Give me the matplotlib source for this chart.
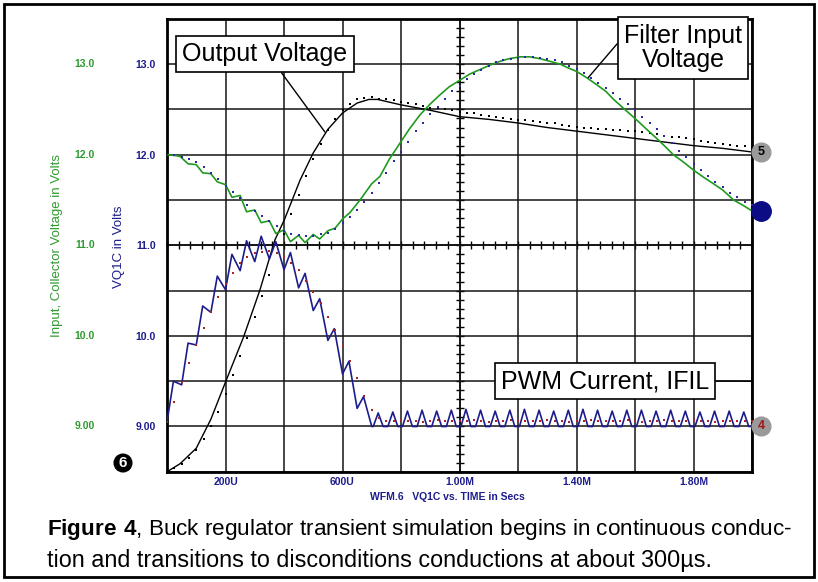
import numpy as np
import matplotlib
import matplotlib.pyplot as plt
from matplotlib.patches import Rectangle
from matplotlib.ticker import MultipleLocator
from matplotlib import transforms

plt.rcParams['font.family'] = ['Liberation Sans', 'DejaVu Sans']
plt.rcParams['mathtext.fontset'] = 'custom'
plt.rcParams['mathtext.rm'] = 'Liberation Sans'
plt.rcParams['mathtext.bf'] = 'Liberation Sans:bold'

# ---- data (time in microseconds, volts) ----
# dotted traces are sampled every 25 us
dot_time = np.arange(0, 2001, 25)

out_dots = [8.50, 8.54, 8.59, 8.65, 8.74, 8.86, 9.00, 9.16, 9.36, 9.57,
            9.78, 9.98, 10.21, 10.44, 10.67, 10.91, 11.12, 11.34, 11.55, 11.76,
            11.95, 12.12, 12.27, 12.39, 12.49, 12.56, 12.61, 12.63, 12.64, 12.62,
            12.61, 12.60, 12.58, 12.57, 12.56, 12.54, 12.52, 12.51, 12.50, 12.49,
            12.47, 12.46, 12.46, 12.44, 12.43, 12.42, 12.41, 12.39, 12.38, 12.38,
            12.37, 12.36, 12.35, 12.35, 12.33, 12.32, 12.31, 12.30, 12.29, 12.28,
            12.28, 12.27, 12.27, 12.26, 12.26, 12.25, 12.24, 12.23, 12.21, 12.20,
            12.19, 12.18, 12.17, 12.15, 12.14, 12.13, 12.12, 12.11, 12.10, 12.10,
            12.09]

filt_dots = [12.00, 12.00, 11.98, 11.95, 11.92, 11.86, 11.80, 11.73, 11.66, 11.59,
             11.52, 11.45, 11.38, 11.32, 11.27, 11.21, 11.16, 11.12, 11.11, 11.10,
             11.10, 11.12, 11.14, 11.18, 11.25, 11.31, 11.39, 11.48, 11.58, 11.69,
             11.80, 11.93, 12.03, 12.14, 12.26, 12.35, 12.45, 12.53, 12.62, 12.70,
             12.76, 12.84, 12.89, 12.94, 12.98, 13.02, 13.04, 13.06, 13.07, 13.08,
             13.08, 13.07, 13.06, 13.04, 13.02, 12.98, 12.95, 12.90, 12.85, 12.79,
             12.74, 12.68, 12.62, 12.56, 12.49, 12.42, 12.35, 12.28, 12.21, 12.13,
             12.04, 11.97, 11.90, 11.83, 11.76, 11.70, 11.64, 11.58, 11.53, 11.48,
             11.44]

pwm_dots = [9.05, 9.27, 9.49, 9.70, 9.90, 10.09, 10.26, 10.43, 10.57, 10.69,
            10.81, 10.87, 10.91, 10.93, 10.94, 10.92, 10.87, 10.81, 10.73, 10.61,
            10.49, 10.36, 10.21, 10.07, 9.89, 9.72, 9.53, 9.34, 9.18, 9.09,
            9.06, 9.06, 9.07, 9.06, 9.06, 9.05, 9.06, 9.07, 9.06, 9.06,
            9.06, 9.06, 9.07, 9.06, 9.05, 9.06, 9.06, 9.07, 9.06, 9.06,
            9.06, 9.06, 9.07, 9.06, 9.06, 9.05, 9.06, 9.06, 9.07, 9.06,
            9.06, 9.06, 9.06, 9.07, 9.06, 9.05, 9.06, 9.06, 9.07, 9.06,
            9.06, 9.06, 9.07, 9.06, 9.06, 9.05, 9.06, 9.06, 9.06, 9.06,
            9.06]

# output voltage (solid black)
out_t = [0, 45, 100, 150, 200, 262, 318, 369, 401, 455, 500, 550, 600, 650, 690,
         720, 800, 900, 1000, 1100, 1200, 1300, 1400, 1500, 1600, 1700, 1800, 1900, 2000]
out_v = [8.50, 8.59, 8.76, 9.08, 9.49, 9.99, 10.51, 11.06, 11.28, 11.72, 12.02, 12.28,
         12.46, 12.57, 12.61, 12.61, 12.55, 12.49, 12.42, 12.39, 12.35, 12.30, 12.26,
         12.22, 12.18, 12.14, 12.10, 12.07, 12.03]

# filter input voltage (solid green)
filt_t = [0, 30, 45, 72, 100, 122, 150, 172, 200, 222, 250, 272, 300, 322, 350, 372,
          400, 422, 450, 472, 500, 522, 550, 575, 600, 625, 660, 700, 728, 760, 797,
          830, 865, 900, 933, 965, 1000, 1035, 1070, 1105, 1138, 1170, 1207, 1240,
          1275, 1310, 1344, 1370, 1400, 1435, 1470, 1500, 1527, 1565, 1600, 1640,
          1674, 1700, 1731, 1765, 1800, 1835, 1868, 1900, 1937, 1970, 2000]
filt_v = [12.00, 11.99, 11.98, 11.90, 11.89, 11.80, 11.79, 11.70, 11.67, 11.53, 11.55,
          11.37, 11.39, 11.25, 11.27, 11.13, 11.17, 11.04, 11.11, 11.03, 11.12, 11.07,
          11.16, 11.19, 11.29, 11.36, 11.50, 11.68, 11.76, 11.95, 12.13, 12.29, 12.44,
          12.56, 12.66, 12.75, 12.82, 12.89, 12.94, 12.99, 13.03, 13.06, 13.08, 13.08,
          13.06, 13.03, 13.00, 12.96, 12.92, 12.85, 12.77, 12.70, 12.61, 12.50, 12.40,
          12.28, 12.18, 12.10, 12.00, 11.92, 11.83, 11.75, 11.68, 11.61, 11.50, 11.44,
          11.38]

# PWM current (VQ1C) sawtooth: one peak per 50 us switching cycle
period = 50
pwm_trough = [9.05, 9.46, 9.90, 10.26, 10.51, 10.72, 10.82, 10.85, 10.73, 10.53,
              10.28, 9.95, 9.58, 9.20, 9.00]
pwm_peak = [9.50, 9.92, 10.33, 10.66, 10.90, 11.05, 11.10, 11.04, 10.92, 10.69,
            10.41, 10.08, 9.72, 9.33,
            9.15, 9.16, 9.17, 9.18, 9.17, 9.18, 9.19, 9.18, 9.17, 9.18, 9.19, 9.18,
            9.17, 9.18, 9.19, 9.18, 9.17, 9.18, 9.18, 9.17, 9.18, 9.17, 9.16, 9.17,
            9.17, 9.16]
pwm_base = 9.00

x_tick_labels = {200: '200U', 600: '600U', 1000: '1.00M', 1400: '1.40M', 1800: '1.80M'}
y_tick_labels = {13.0: '13.0', 12.0: '12.0', 11.0: '11.0', 10.0: '10.0', 9.0: '9.00'}

GREEN = '#1f9a1f'
GREEN_TXT = '#2f9a2f'
NAVY = '#1c1c8c'
DOTBLUE = '#2828a8'
RED = '#b02020'

# build the sawtooth vertices
n_ccm = len(pwm_trough) - 1
pwm_t, pwm_v = [], []
for k in range(n_ccm):
    pwm_t += [k * period, k * period + 22]
    pwm_v += [pwm_trough[k], pwm_peak[k]]
pwm_t.append(n_ccm * period)
pwm_v.append(pwm_trough[-1])
for k in range(n_ccm, len(pwm_peak)):
    pwm_t += [k * period + 5, k * period + 22, k * period + 39]
    pwm_v += [pwm_base, pwm_peak[k], pwm_base]
pwm_t.append(2000)
pwm_v.append(pwm_base)

# ---- figure ----
W, H = 818, 582
fig = plt.figure(figsize=(W / 100, H / 100), dpi=100)


def fx(x):
    return x / W


def fy(y):
    return 1 - y / H


pos = [fx(167), fy(471.8), fx(752) - fx(167), fy(18.8) - fy(471.8)]

# graticule centre lines with small ticks (drawn underneath)
axc = fig.add_axes(pos)
axc.set_xlim(0, 2000)
axc.set_ylim(8.5, 13.5)
axc.spines['top'].set_visible(False)
axc.spines['right'].set_visible(False)
axc.spines['left'].set_position(('data', 1000))
axc.spines['bottom'].set_position(('data', 11.0))
axc.spines['left'].set_linewidth(1.2)
axc.spines['bottom'].set_linewidth(1.2)
axc.xaxis.set_major_locator(MultipleLocator(40))
axc.yaxis.set_major_locator(MultipleLocator(0.1))
axc.tick_params(direction='inout', length=6, width=1, labelbottom=False, labelleft=False)

ax = fig.add_axes(pos)
ax.patch.set_visible(False)
ax.set_xlim(0, 2000)
ax.set_ylim(8.5, 13.5)
ax.set_xticks(np.arange(0, 2001, 200))
ax.set_xticklabels([x_tick_labels.get(int(t), '') for t in np.arange(0, 2001, 200)])
yt = np.arange(8.5, 13.51, 0.5)
ax.set_yticks(yt)
ax.set_yticklabels([y_tick_labels.get(round(v, 1), '') for v in yt])
ax.tick_params(length=0, labelsize=7.5, labelcolor=NAVY, pad=4)
ax.tick_params(axis='y', pad=8)
for lab in ax.get_xticklabels() + ax.get_yticklabels():
    lab.set_fontweight('bold')
ax.grid(True, color='#151515', lw=1.1)
ax.set_axisbelow(True)
for s in ax.spines.values():
    s.set_linewidth(2)

# green tick labels column
tr = transforms.blended_transform_factory(fig.transFigure, ax.transData)
for v, lab in y_tick_labels.items():
    ax.text(fx(95), v, lab, transform=tr, ha='right', va='center', fontsize=7.5,
            fontweight='bold', color=GREEN_TXT)

# traces
ax.plot(out_t, out_v, color='black', lw=1.0, zorder=3)
ax.plot(dot_time, out_dots, ls='none', marker='s', ms=1.5, mew=0, color='black', zorder=3)
ax.plot(filt_t, filt_v, color=GREEN, lw=1.2, zorder=3)
ax.plot(dot_time, filt_dots, ls='none', marker='s', ms=1.6, mew=0, color=DOTBLUE, zorder=3)
ax.plot(pwm_t, pwm_v, color=NAVY, lw=1.2, zorder=3)
ax.plot(dot_time, pwm_dots, ls='none', marker='s', ms=1.6, mew=0, color=RED, zorder=4)

# end-of-trace markers on the right edge
off = transforms.offset_copy(ax.transData, fig=fig, x=9, y=0, units='dots')
ax.plot([2000], [out_v[-1]], marker='o', ms=13.5, color='#9a9a9a', mec='#9a9a9a',
        transform=off, clip_on=False, zorder=6)
ax.text(2000, out_v[-1], '5', transform=off, ha='center', va='center', fontsize=9,
        fontweight='bold', color='black', zorder=7, clip_on=False)
ax.plot([2000], [filt_v[-1]], marker='o', ms=14, color='#0c0c84', transform=off,
        clip_on=False, zorder=6)
ax.plot([2000], [pwm_base], marker='o', ms=13.5, color='#9a9a9a', mec='#9a9a9a',
        transform=off, clip_on=False, zorder=6)
ax.text(2000, pwm_base, '4', transform=off, ha='center', va='center', fontsize=9,
        fontweight='bold', color='#a01818', zorder=7, clip_on=False)

# label boxes with leader lines
box_kw = dict(boxstyle='square,pad=0.25', fc='white', ec='black', lw=1.2)
ax.annotate('Output Voltage', xy=(540, 12.25), xycoords='data',
            xytext=(fx(265), fy(54)), textcoords='figure fraction',
            ha='center', va='center', fontsize=18, bbox=box_kw, zorder=8,
            arrowprops=dict(arrowstyle='-', lw=1.0, color='black', relpos=(0.57, 0),
                            shrinkA=0, shrinkB=0))
ax.annotate('Filter Input\nVoltage', xy=(1440, 12.85), xycoords='data',
            xytext=(fx(683), fy(48)), textcoords='figure fraction',
            ha='center', va='center', fontsize=18, bbox=box_kw, zorder=8,
            linespacing=1.05,
            arrowprops=dict(arrowstyle='-', lw=1.0, color='black', relpos=(0, 0.75),
                            shrinkA=0, shrinkB=0))
ax.annotate('PWM Current, IFIL', xy=(2000, 9.5), xycoords='data',
            xytext=(fx(605), fy(381)), textcoords='figure fraction',
            ha='center', va='center', fontsize=18, bbox=box_kw, zorder=8,
            arrowprops=dict(arrowstyle='-', lw=1.0, color='black', relpos=(1, 0.5),
                            shrinkA=0, shrinkB=0))

# axis titles
fig.text(fx(57), fy(245), 'Input, Collector Voltage in Volts', rotation=90,
         ha='center', va='center', fontsize=9.5, color=GREEN_TXT)
fig.text(fx(119), fy(247), 'VQ1C in Volts', rotation=90, ha='center', va='center',
         fontsize=9.5, color=NAVY)
fig.text(fx(447), fy(497), 'WFM.6   VQ1C vs. TIME in Secs', ha='center', va='center',
         fontsize=7.5, fontweight='bold', color=NAVY)

# circled 6
fig.text(fx(123), fy(463), '6', ha='center', va='center', fontsize=11, fontweight='bold',
         color='white', bbox=dict(boxstyle='circle,pad=0.12', fc='black', ec='black'))

# caption
fig.text(fx(47), fy(535), r'$\mathbf{Figure\ 4}$, Buck regulator transient simulation '
         'begins in continuous conduc-', fontsize=16.2, va='baseline', ha='left')
fig.text(fx(47), fy(567), 'tion and transitions to disconditions conductions at about 300µs.',
         fontsize=16.8, va='baseline', ha='left')

# outer frame
fig.patches.append(Rectangle((fx(4), fy(577)), fx(814) - fx(4), fy(4) - fy(577),
                             transform=fig.transFigure, fill=False, ec='black', lw=2))

fig.savefig('out.png', dpi=100)
